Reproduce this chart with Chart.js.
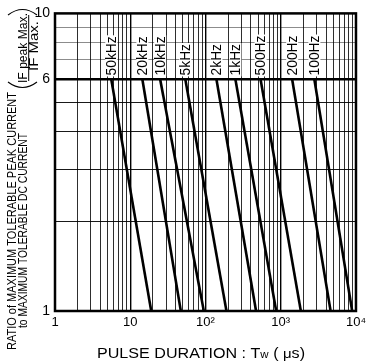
<!DOCTYPE html>
<html>
<head>
<meta charset="utf-8">
<script src="https://cdn.jsdelivr.net/npm/chart.js@4/dist/chart.umd.min.js"></script>
<style>
  html, body { margin: 0; padding: 0; background: #fff; }
  #wrap { width: 370px; height: 361px; position: relative; }
</style>
</head>
<body>
<div id="wrap"><canvas id="c" width="370" height="361"></canvas></div>
<script>
// ---- data ----
const freqLabels   = ['50kHz', '20kHz', '10kHz', '5kHz', '2kHz', '1kHz', '500Hz', '200Hz', '100Hz'];
const twAtRatio6   = [5.6, 14.5, 25, 54, 140, 250, 540, 1420, 2800];   // µs at ratio = 6
const twAtRatio1   = [19, 47, 95, 190, 470, 870, 1850, 4600, 8900];    // µs at ratio = 1
const ratioTop     = 6;
const ratioBottom  = 1;
const xGridValues  = [1,2,3,4,5,6,7,8,9,10,20,30,40,50,60,70,80,90,100,200,300,400,500,600,700,800,900,1000,2000,3000,4000,5000,6000,7000,8000,9000,10000];
const xTickLabels  = {1: '1', 10: '10', 100: '10\u00B2', 1000: '10\u00B3', 10000: '10\u2074'};
const yGridValues  = [1,2,3,4,5,6,7,8,9,10];
const yTickLabels  = {1: '1', 6: '6', 10: '10'};
const yTitle1 = 'RATIO of MAXIMUM TOLERABLE PEAK CURRENT';
const yTitle2 = 'to MAXIMUM TOLERABLE DC CURRENT';
const fracNum = 'IF peak Max.';
const fracDen = 'IF Max.';

const FONT = '"Liberation Sans", Arial, "DejaVu Sans", sans-serif';

const datasets = freqLabels.map((lab, i) => ({
  label: lab,
  data: [{x: twAtRatio6[i], y: ratioTop}, {x: twAtRatio1[i], y: ratioBottom}],
  borderColor: '#000',
  borderWidth: 2.6,
  pointRadius: 0,
  showLine: true,
  fill: false
}));

const overlay = {
  id: 'overlay',
  afterDatasetsDraw(chart) {
    const ctx = chart.ctx, xs = chart.scales.x, ys = chart.scales.y, ca = chart.chartArea;
    // frequency labels
    ctx.save();
    ctx.fillStyle = '#000';
    freqLabels.forEach((lab, i) => {
      const px = xs.getPixelForValue(twAtRatio6[i]);
      const py = ys.getPixelForValue(ratioTop) - 4;
      ctx.save();
      ctx.translate(px, py);
      ctx.rotate(-Math.PI / 2);
      ctx.font = '15px ' + FONT;
      const w = ctx.measureText(lab).width * 0.92;
      ctx.fillStyle = '#fff';
      ctx.fillRect(-1, -6, w + 2, 12);
      ctx.fillStyle = '#000';
      ctx.textBaseline = 'middle';
      ctx.textAlign = 'left';
      ctx.scale(0.92, 1);
      ctx.fillText(lab, 0, 0.5);
      ctx.restore();
    });
    ctx.restore();
    // frame
    ctx.save();
    ctx.strokeStyle = '#000';
    ctx.lineWidth = 2.5;
    ctx.strokeRect(ca.left, ca.top, ca.right - ca.left, ca.bottom - ca.top);
    ctx.restore();
  },
  afterDraw(chart) {
    const ctx = chart.ctx;
    ctx.save();
    ctx.fillStyle = '#000';
    ctx.strokeStyle = '#000';
    function rotText(txt, bx, by, font, len, align) {
      ctx.save();
      ctx.translate(bx, by);
      ctx.rotate(-Math.PI / 2);
      ctx.font = font;
      const w = ctx.measureText(txt).width;
      const sx = len / w;
      ctx.scale(sx, 1);
      ctx.textBaseline = 'alphabetic';
      ctx.textAlign = align || 'left';
      ctx.fillText(txt, 0, 0);
      ctx.restore();
    }
    // y-axis title
    rotText(yTitle1, 15.5, 350, '12.5px ' + FONT, 258);
    rotText(yTitle2, 26.5, 328, '12.5px ' + FONT, 195);
    rotText(fracNum, 27, 48, '13px ' + FONT, 70, 'center');
    rotText(fracDen, 37.5, 46, '12px ' + FONT, 50, 'center');
    // fraction bar
    ctx.lineWidth = 1;
    ctx.beginPath();
    ctx.moveTo(28.7, 15); ctx.lineTo(28.7, 81);
    ctx.stroke();
    // parentheses
    ctx.lineWidth = 1.1;
    ctx.beginPath();
    ctx.moveTo(8, 82); ctx.quadraticCurveTo(22.5, 93, 37, 82);
    ctx.stroke();
    ctx.beginPath();
    ctx.moveTo(8, 15); ctx.quadraticCurveTo(22.5, 4, 37, 15);
    ctx.stroke();
    // x-axis title
    const parts = [
      ['PULSE DURATION : T', '14px ' + FONT, 0],
      ['w', '10px ' + FONT, 0],
      [' ( ', '14px ' + FONT, 0],
      ['\u03BC', '13px ' + FONT, 0],
      ['s)', '14px ' + FONT, 0]
    ];
    let total = 0;
    parts.forEach(p => { ctx.font = p[1]; total += ctx.measureText(p[0]).width; });
    const sx = 208 / total;
    ctx.save();
    ctx.translate(97, 358);
    ctx.scale(sx, 1);
    let cx = 0;
    ctx.textBaseline = 'alphabetic';
    parts.forEach(p => { ctx.font = p[1]; ctx.fillText(p[0], cx, p[2]); cx += ctx.measureText(p[0]).width; });
    ctx.restore();
    ctx.restore();
  }
};

new Chart(document.getElementById('c'), {
  type: 'scatter',
  data: { datasets },
  options: {
    responsive: false,
    animation: false,
    events: [],
    layout: { padding: { top: 10, right: 11, left: 0, bottom: 0 } },
    plugins: { legend: { display: false }, tooltip: { enabled: false }, title: { display: false } },
    scales: {
      x: {
        type: 'logarithmic',
        min: 1, max: 10000,
        afterBuildTicks(scale) { scale.ticks = xGridValues.map(v => ({ value: v })); },
        afterFit(scale) { scale.height = 50; },
        ticks: {
          autoSkip: false, maxRotation: 0, minRotation: 0, padding: 4,
          color: '#000', font: { family: FONT, size: 13 },
          callback: (v) => xTickLabels[v] !== undefined ? xTickLabels[v] : ''
        },
        grid: {
          drawTicks: false, tickLength: 0,
          color: (c) => (c.tick && [10, 100, 1000].includes(c.tick.value)) ? '#000' : 'rgba(0,0,0,0.82)',
          lineWidth: (c) => (c.tick && [10, 100, 1000].includes(c.tick.value)) ? 1.4 : 1
        },
        border: { display: false }
      },
      y: {
        type: 'logarithmic',
        min: 1, max: 10,
        afterBuildTicks(scale) { scale.ticks = yGridValues.map(v => ({ value: v })); },
        afterFit(scale) { scale.width = 55; },
        ticks: {
          autoSkip: false, padding: 5,
          color: '#000', font: { family: FONT, size: 14 },
          callback: (v) => yTickLabels[v] !== undefined ? yTickLabels[v] : ''
        },
        grid: {
          drawTicks: false, tickLength: 0,
          color: (c) => {
            const v = c.tick && c.tick.value;
            if (v === 6) return '#000';
            if (v >= 7 && v <= 9) return 'rgba(0,0,0,0.45)';
            return 'rgba(0,0,0,0.9)';
          },
          lineWidth: (c) => (c.tick && c.tick.value === 6) ? 2.6 : 1
        },
        border: { display: false }
      }
    }
  },
  plugins: [overlay]
});
</script>
</body>
</html>
